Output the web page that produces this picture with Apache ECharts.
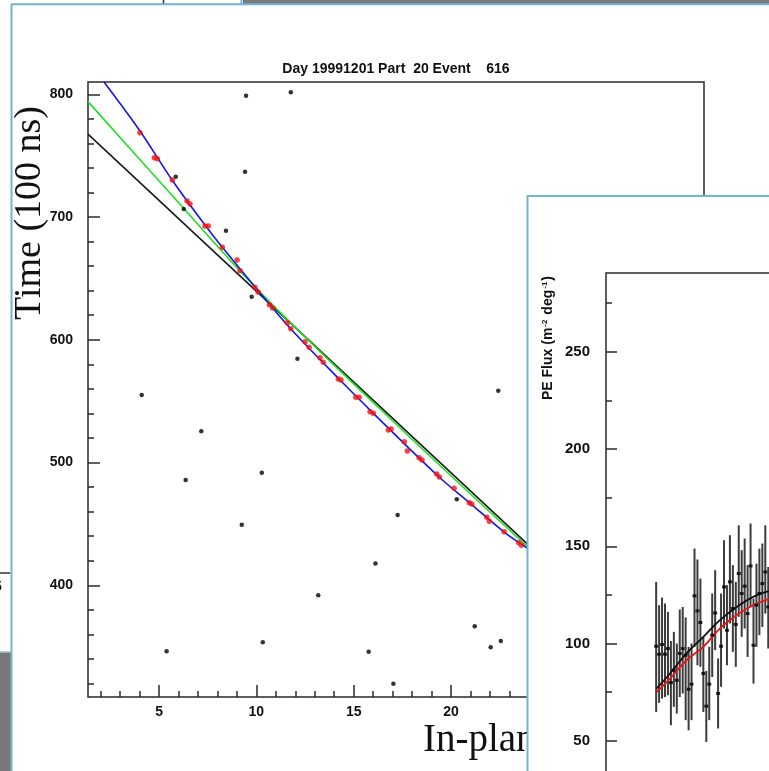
<!DOCTYPE html>
<html><head><meta charset="utf-8">
<script src="https://cdn.jsdelivr.net/npm/echarts@6/dist/echarts.min.js"></script>
<style>html,body{margin:0;padding:0;background:#fff;overflow:hidden}#c{width:769px;height:771px}</style>
</head><body><div id="c"></div>
<script>
// ---------- main event display (time vs in-plane distance) ----------
const chartTitle = 'Day 19991201 Part  20 Event    616';
const mainXLabels = [5, 10, 15, 20, 25, 30];
const mainXMinor = [2,3,4,6,7,8,9,11,12,13,14,16,17,18,19,21,22,23,24,26,27,28,29,31,32];
const mainYLabels = [400, 500, 600, 700, 800];
const mainYMinor = [320,340,360,380,420,440,460,480,520,540,560,580,620,640,660,680,720,740,760,780];

// hits used in the fit (red)
const fitHitX = [4.02,4.76,4.91,5.68,6.44,6.59,7.36,7.53,8.25,9.01,9.16,9.92,10.09,10.67,10.84,11.59,11.77,12.50,12.71,13.27,13.44,14.21,14.35,15.11,15.28,15.84,16.01,16.78,16.92,17.60,17.76,18.36,18.51,19.27,19.40,20.16,20.94,21.07,21.84,21.97,22.73,23.48,23.62];
const fitHitY = [768.7,748.3,747.5,730.2,713.1,710.6,692.7,692.7,675.3,665.0,656.3,642.7,638.9,628.6,625.9,613.9,609.0,598.4,593.9,585.4,581.7,568.0,567.2,553.1,553.1,541.4,540.1,526.5,527.3,517.0,509.4,503.9,502.1,490.7,488.2,479.0,467.3,466.2,455.4,452.1,443.6,434.7,432.6];
// noise hits (black)
const noiseX = [5.86,6.27,8.44,9.47,9.42,9.76,11.77,12.11,4.11,7.17,6.37,10.28,9.25,16.12,13.18,5.39,10.33,15.77,17.04,21.22,22.04,22.56,22.43,20.30,17.26];
const noiseY = [732.9,706.5,688.9,798.8,736.9,635.1,801.6,584.6,555.0,525.4,485.8,491.7,449.3,417.7,391.9,346.2,353.5,345.9,319.8,366.6,349.5,354.6,558.5,470.0,457.3];
// fitted tracks
const blueFitX = [2.17,4.02,5.67,7.36,8.24,9.98,11.73,14.30,16.00,19.39,21.03,22.73,23.91,25.6];
const blueFitY = [810,770.1,730.2,693.5,675.6,642.2,609.6,567.2,540.3,488.2,466.2,443.4,430.4,411.6];
const greenFitX = [1.35,5.56,10.09,16.36,23.89,25.6];
const greenFitY = [794.0,719.6,640.5,543.6,432.0,408.8];
const blackFitX = [1.35,23.89,25.6];
const blackFitY = [767.6,434.2,409.2];

// ---------- PE flux panel ----------
const fluxYLabels = [50, 100, 150, 200, 250];
const fluxYMinor = [25, 75, 125, 175, 225, 275];
const fluxBin = [17,18,19,20,21,22,23,24,25,26,27,28,29,30,31,32,33,34,35,36,37,38,39,40,41,42,43,44,45,46,47,48,49,50,51,52,53,54,55];
const fluxVal = [98.6,94.5,99.5,94.5,97.4,79.9,86.3,81.1,94.9,97.4,94.0,76.5,79.1,124.5,116.8,110.8,84.6,67.8,79.1,104.3,115.7,74.3,98.6,129.1,106.8,131.7,118.0,109.8,136.0,125.7,129.5,115.4,139.9,99.1,119.7,125.7,130.8,136.8,118.8];
const fluxHigh = [131.7,119.7,123.6,120.6,116.2,101.3,106.0,100.0,117.5,118.8,113.4,98.3,100.0,148.8,143.2,133.4,103.4,85.9,98.3,125.7,137.7,92.3,125.7,153.1,130.0,155.7,140.3,131.7,160.8,148.0,154.0,140.3,161.7,123.1,141.1,148.8,151.4,160.8,139.4];
const fluxLow = [64.8,69.5,71.7,72.5,73.4,58.0,67.4,64.0,72.5,74.3,60.6,55.4,60.6,98.3,88.8,88.0,64.8,49.4,60.6,82.8,96.6,56.3,77.7,107.7,88.8,110.3,95.7,88.0,113.7,103.4,107.7,93.1,118.8,79.4,98.3,104.3,108.5,115.4,97.4];
const curveBlackX = [17.2,21.7,27.3,33.0,38.6,44.3,49.9,55.1];
const curveBlackY = [76.9,84.6,94.9,103.4,112.0,118.8,124.0,126.9];
const curveRedX = [17.2,21.7,27.3,33.0,38.6,44.3,49.9,55.1];
const curveRedY = [75.1,82.0,91.4,98.3,107.7,114.6,119.7,122.8];

const zip = (a, b) => a.map((v, i) => [v, b[i]]);
const SANS = '"Liberation Sans", Arial, Helvetica, sans-serif';
const SERIF = '"Liberation Serif", "Times New Roman", serif';
const AX = '#2a2a2a';
const SLIDE = '#74b5cd';

const chart = echarts.init(document.getElementById('c'), null, {renderer: 'canvas'});

function tickAxis(base) { return Object.assign({
  type: 'value', axisLine: {show: false, onZero: false}, splitLine: {show: false}
}, base); }

const option = {
  animation: false,
  backgroundColor: '#ffffff',
  grid: [
    {left: 88, top: 82, width: 616, height: 615, show: true, borderColor: AX, borderWidth: 1.5, backgroundColor: 'transparent', z: 0, containLabel: false, outerBoundsMode: 'none'},
    {left: 606, top: 273, width: 295, height: 565, show: true, borderColor: AX, borderWidth: 1.5, backgroundColor: 'transparent', z: 20, containLabel: false, outerBoundsMode: 'none'}
  ],
  xAxis: [
    tickAxis({gridIndex: 0, position: 'bottom', min: 1.35, max: 33,
      axisTick: {show: true, inside: true, length: 12, customValues: mainXLabels, lineStyle: {color: AX, width: 1.5}},
      axisLabel: {show: true, customValues: mainXLabels, margin: 8, color: '#111', fontFamily: SANS, fontWeight: 'bold', fontSize: 14}}),
    tickAxis({gridIndex: 0, position: 'bottom', min: 1.35, max: 33,
      axisTick: {show: true, inside: true, length: 6, customValues: mainXMinor, lineStyle: {color: AX, width: 1.5}},
      axisLabel: {show: false}}),
    tickAxis({gridIndex: 1, position: 'bottom', min: 0, max: 100, show: false, z: 20})
  ],
  yAxis: [
    tickAxis({gridIndex: 0, position: 'left', min: 309, max: 810,
      axisTick: {show: true, inside: true, length: 12, customValues: mainYLabels, lineStyle: {color: AX, width: 1.5}},
      axisLabel: {show: true, customValues: mainYLabels, margin: 15, color: '#111', fontFamily: SANS, fontWeight: 'bold', fontSize: 14}}),
    tickAxis({gridIndex: 0, position: 'left', min: 309, max: 810,
      axisTick: {show: true, inside: true, length: 6, customValues: mainYMinor, lineStyle: {color: AX, width: 1.5}},
      axisLabel: {show: false}}),
    tickAxis({gridIndex: 1, position: 'left', min: 0, max: 290.5, z: 20,
      axisTick: {show: true, inside: true, length: 11, customValues: fluxYLabels, lineStyle: {color: AX, width: 1.5}},
      axisLabel: {show: true, customValues: fluxYLabels, margin: 16, color: '#111', fontFamily: SANS, fontWeight: 'bold', fontSize: 15}}),
    tickAxis({gridIndex: 1, position: 'left', min: 0, max: 290.5, z: 20,
      axisTick: {show: true, inside: true, length: 6, customValues: fluxYMinor, lineStyle: {color: AX, width: 1.5}},
      axisLabel: {show: false}})
  ],
  series: [
    {type: 'line', xAxisIndex: 0, yAxisIndex: 0, data: zip(blackFitX, blackFitY), symbol: 'none', lineStyle: {color: '#1a1a1a', width: 1.6}, z: 2, clip: true},
    {type: 'line', xAxisIndex: 0, yAxisIndex: 0, data: zip(greenFitX, greenFitY), symbol: 'none', smooth: 0.35, lineStyle: {color: '#1ee01e', width: 1.6}, z: 2, clip: true},
    {type: 'line', xAxisIndex: 0, yAxisIndex: 0, data: zip(blueFitX, blueFitY), symbol: 'none', smooth: 0.35, lineStyle: {color: '#1414f0', width: 1.6}, z: 2, clip: true},
    {type: 'scatter', xAxisIndex: 0, yAxisIndex: 0, data: zip(noiseX, noiseY), symbol: 'circle', symbolSize: 4.5, itemStyle: {color: '#000'}, z: 3},
    {type: 'scatter', xAxisIndex: 0, yAxisIndex: 0, data: zip(fitHitX, fitHitY), symbol: 'circle', symbolSize: 5.5, itemStyle: {color: '#f01414'}, z: 4},

    {type: 'custom', xAxisIndex: 2, yAxisIndex: 2, z: 22,
      data: fluxBin.map((b, i) => [b, fluxLow[i], fluxHigh[i]]),
      encode: {x: 0, y: [1, 2]},
      renderItem: (params, api) => {
        const p1 = api.coord([api.value(0), api.value(1)]);
        const p2 = api.coord([api.value(0), api.value(2)]);
        return {type: 'line', shape: {x1: p1[0], y1: p1[1], x2: p2[0], y2: p2[1]}, style: {stroke: '#3c3c3c', lineWidth: 2}};
      }},
    {type: 'line', xAxisIndex: 2, yAxisIndex: 2, data: zip(curveBlackX, curveBlackY), symbol: 'none', smooth: 0.4, lineStyle: {color: '#111', width: 1.8}, z: 23},
    {type: 'line', xAxisIndex: 2, yAxisIndex: 2, data: zip(curveRedX, curveRedY), symbol: 'none', smooth: 0.4, lineStyle: {color: '#ee1111', width: 1.8}, z: 23},
    {type: 'scatter', xAxisIndex: 2, yAxisIndex: 2, data: zip(fluxBin, fluxVal), symbol: 'rect', symbolSize: [4, 3], itemStyle: {color: '#000'}, z: 24}
  ],
  graphic: [
    // background slide pieces
    {type: 'rect', shape: {x: 243, y: 0, width: 526, height: 4}, style: {fill: '#7b7b7b'}, z: 1},
    {type: 'line', shape: {x1: 241.5, y1: 0, x2: 241.5, y2: 4}, style: {stroke: SLIDE, lineWidth: 2}, z: 1},
    {type: 'line', shape: {x1: 163.5, y1: 0, x2: 163.5, y2: 4}, style: {stroke: '#333', lineWidth: 1.5}, z: 1},
    {type: 'line', shape: {x1: 0, y1: 573, x2: 10.5, y2: 573}, style: {stroke: '#333', lineWidth: 1.5}, z: 1},
    {type: 'text', x: -6, y: 587, style: {text: '5', font: 'bold 14px ' + SANS, fill: '#111', verticalAlign: 'middle'}, z: 1},
    {type: 'rect', shape: {x: 0, y: 652, width: 11, height: 119}, style: {fill: '#7a777b'}, z: 1},
    {type: 'line', shape: {x1: 0, y1: 652, x2: 11, y2: 652}, style: {stroke: '#9ec3d2', lineWidth: 1.5}, z: 1},
    // main slide border
    {type: 'line', shape: {x1: 11, y1: 4.3, x2: 769, y2: 4.3}, style: {stroke: SLIDE, lineWidth: 2}, z: 2},
    {type: 'line', shape: {x1: 11.5, y1: 4, x2: 11.5, y2: 771}, style: {stroke: SLIDE, lineWidth: 2}, z: 2},
    // texts of main slide
    {type: 'text', x: 396, y: 69, style: {text: chartTitle, font: 'bold 14px ' + SANS, fill: '#111', align: 'center', verticalAlign: 'middle'}, z: 5},
    {type: 'text', x: 30, y: 213, rotation: Math.PI / 2, style: {text: 'Time (100 ns)', font: '38px ' + SERIF, fill: '#111', align: 'center', verticalAlign: 'middle'}, z: 5},
    {type: 'text', x: 423, y: 741, style: {text: 'In-plane Distance', font: '39px ' + SERIF, fill: '#111', align: 'left', verticalAlign: 'middle'}, z: 5},
    // overlapping second slide
    {type: 'rect', shape: {x: 527.5, y: 196, width: 260, height: 600}, style: {fill: '#ffffff', stroke: SLIDE, lineWidth: 2}, z: 10},
    {type: 'text', x: 548, y: 338, rotation: Math.PI / 2, z: 25,
      style: {text: 'PE Flux (m{s|-2} deg{s|-1})', font: 'bold 14px ' + SANS, fill: '#111', align: 'center', verticalAlign: 'middle',
        rich: {s: {fontSize: 8, fontWeight: 'bold', fontFamily: SANS, fill: '#111', verticalAlign: 'top', padding: [0, 1, 7, 1]}}}}
  ]
};
chart.setOption(option);
</script>
</body></html>
